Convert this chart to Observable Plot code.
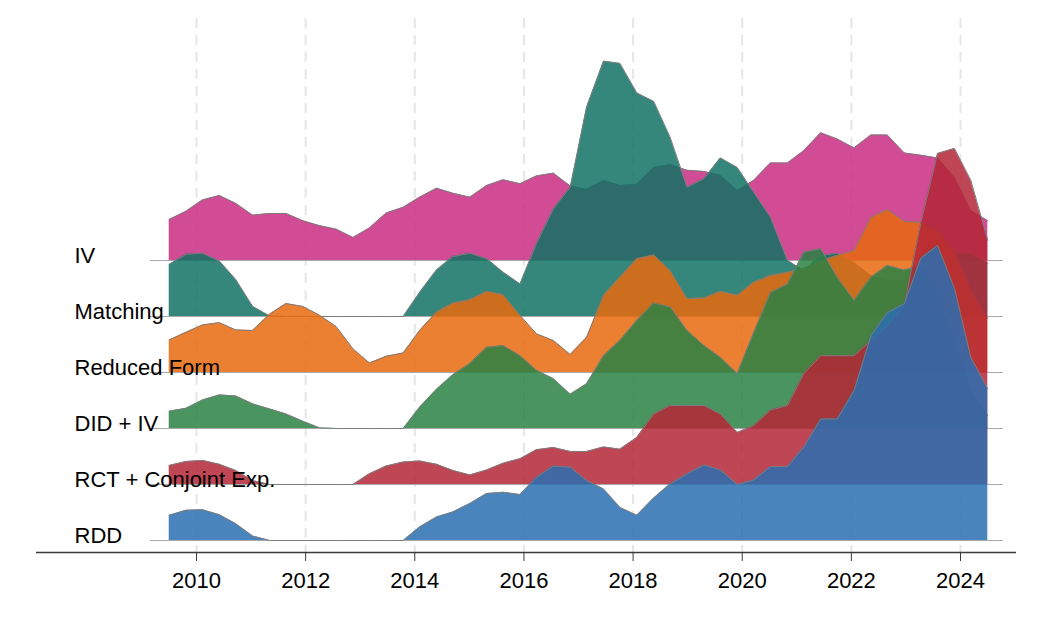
<!DOCTYPE html>
<html>
<head>
<meta charset="utf-8">
<script src="https://cdn.jsdelivr.net/npm/d3@7"></script>
<script src="https://cdn.jsdelivr.net/npm/@observablehq/plot@0.6"></script>
<style>
  body { margin: 0; background: #fff; }
  #chart { width: 1040px; height: 624px; }
</style>
</head>
<body>
<div id="chart"></div>
<script>
// Evaluation grid (decimal years) shared by every density curve
const years = [
  2009.50, 2009.81, 2010.11, 2010.42, 2010.72, 2011.03, 2011.34, 2011.64, 2011.95, 2012.26,
  2012.56, 2012.87, 2013.17, 2013.48, 2013.79, 2014.09, 2014.40, 2014.70, 2015.01, 2015.32,
  2015.62, 2015.93, 2016.23, 2016.54, 2016.85, 2017.15, 2017.46, 2017.76, 2018.07, 2018.38,
  2018.68, 2018.99, 2019.30, 2019.60, 2019.91, 2020.21, 2020.52, 2020.83, 2021.13, 2021.44,
  2021.74, 2022.05, 2022.36, 2022.66, 2022.97, 2023.27, 2023.58, 2023.89, 2024.19, 2024.50
];

// Method names, top ridge first
const methods = ["IV", "Matching", "Reduced Form", "DID + IV", "RCT + Conjoint Exp.", "RDD"];
const colors = ["#c92c83", "#127265", "#e76a0f", "#2a8144", "#b42636", "#2a6fb1"];

// Relative density of each method over time (1 = one ridge spacing)
const ivDensity = [
  0.73, 0.88, 1.08, 1.16, 1.02, 0.81, 0.84, 0.84, 0.71, 0.62,
  0.56, 0.41, 0.58, 0.85, 0.95, 1.13, 1.29, 1.20, 1.13, 1.34,
  1.44, 1.37, 1.51, 1.56, 1.33, 1.27, 1.43, 1.34, 1.36, 1.66,
  1.71, 1.61, 1.59, 1.52, 1.25, 1.43, 1.74, 1.74, 1.96, 2.28,
  2.17, 2.01, 2.24, 2.24, 1.92, 1.88, 1.83, 1.48, 0.89, 0.71
];
const matchingDensity = [
  0.93, 1.11, 1.13, 0.99, 0.66, 0.18, 0.01, 0.00, 0.00, 0.00,
  0.00, 0.00, 0.00, 0.00, 0.00, 0.43, 0.83, 1.07, 1.13, 1.03,
  0.79, 0.58, 1.30, 1.92, 2.31, 3.74, 4.56, 4.52, 3.99, 3.84,
  3.20, 2.31, 2.46, 2.83, 2.66, 2.22, 1.77, 1.00, 0.82, 1.09,
  1.13, 0.96, 0.73, 0.64, 0.64, 0.79, 0.96, 1.13, 1.13, 0.95
];
const reducedFormDensity = [
  0.58, 0.72, 0.85, 0.89, 0.76, 0.75, 1.04, 1.23, 1.18, 1.02,
  0.82, 0.42, 0.17, 0.29, 0.35, 0.75, 1.08, 1.24, 1.30, 1.45,
  1.39, 1.02, 0.69, 0.57, 0.32, 0.63, 1.38, 1.70, 2.03, 2.10,
  1.82, 1.32, 1.33, 1.45, 1.38, 1.61, 1.73, 1.79, 1.86, 2.00,
  2.09, 2.18, 2.77, 2.91, 2.70, 2.68, 2.54, 2.18, 1.46, 0.96
];
const didIvDensity = [
  0.31, 0.36, 0.51, 0.60, 0.58, 0.44, 0.35, 0.26, 0.13, 0.01,
  0.00, 0.00, 0.00, 0.00, 0.00, 0.38, 0.70, 0.96, 1.16, 1.45,
  1.48, 1.30, 1.04, 0.89, 0.61, 0.80, 1.30, 1.57, 1.93, 2.24,
  2.17, 1.75, 1.48, 1.27, 0.98, 1.71, 2.43, 2.58, 3.15, 3.21,
  2.70, 2.29, 2.70, 2.91, 2.83, 2.91, 2.46, 1.57, 0.68, 0.23
];
const rctDensity = [
  0.34, 0.41, 0.43, 0.36, 0.25, 0.07, 0.00, 0.00, 0.00, 0.00,
  0.00, 0.00, 0.19, 0.33, 0.40, 0.42, 0.36, 0.25, 0.17, 0.26,
  0.38, 0.46, 0.62, 0.66, 0.59, 0.59, 0.67, 0.63, 0.84, 1.26,
  1.41, 1.41, 1.41, 1.26, 0.93, 1.05, 1.33, 1.41, 1.98, 2.30,
  2.30, 2.30, 2.57, 2.84, 3.20, 4.66, 5.91, 6.00, 5.43, 4.36
];
const rddDensity = [
  0.45, 0.54, 0.55, 0.46, 0.30, 0.08, 0.00, 0.00, 0.00, 0.00,
  0.00, 0.00, 0.00, 0.00, 0.00, 0.24, 0.42, 0.51, 0.66, 0.84,
  0.86, 0.82, 1.13, 1.33, 1.31, 1.07, 0.92, 0.59, 0.45, 0.76,
  1.01, 1.19, 1.35, 1.26, 1.00, 1.08, 1.32, 1.32, 1.67, 2.17,
  2.17, 2.68, 3.66, 4.07, 4.23, 5.04, 5.27, 4.50, 3.27, 2.71
];

const tickYears = [2010, 2012, 2014, 2016, 2018, 2020, 2022, 2024];

const densities = [ivDensity, matchingDensity, reducedFormDensity, didIvDensity, rctDensity, rddDensity];

// Each ridge sits one unit above the next; RDD rests at 0
const ridges = methods.map((method, i) => {
  const base = methods.length - 1 - i;
  return {
    method,
    base,
    color: colors[i],
    rows: years.map((year, k) => ({ year, base, top: base + densities[i][k] }))
  };
});

const yDomain = [-12 / 56, 522 / 56];
const font = "'Liberation Sans', Arial, Helvetica, sans-serif";

const ridgeMarks = ridges.flatMap(r => [
  Plot.areaY(r.rows, { x: "year", y1: "base", y2: "top", fill: r.color, fillOpacity: 0.85 }),
  Plot.lineY(r.rows, { x: "year", y: "top", stroke: "#7d7d7d", strokeWidth: 1 })
]);

const chart = Plot.plot({
  width: 1040,
  height: 624,
  marginLeft: 36,
  marginRight: 24,
  marginTop: 18,
  marginBottom: 72,
  style: { fontFamily: font, background: "#fff", color: "#000" },
  x: { domain: [2007.068, 2025.026], label: null },
  y: { domain: yDomain, axis: null },
  marks: [
    Plot.ruleX(tickYears, { stroke: "#e6e6e6", strokeWidth: 2, strokeDasharray: "10,7" }),
    Plot.ruleY(ridges, { y: "base", stroke: "#a9a9a9", strokeWidth: 1, insetLeft: 114, insetRight: 13 }),
    ...ridgeMarks,
    Plot.text(ridges, {
      y: "base", text: "method", frameAnchor: "left", dx: 38, dy: 2,
      textAnchor: "start", lineAnchor: "bottom", fontSize: 22, fill: "#000"
    }),
    Plot.ruleY([yDomain[0]], { stroke: "#3a3a3a", strokeWidth: 1.5 }),
    Plot.axisX({
      ticks: tickYears, tickFormat: d => String(d), tickSize: 9, tickPadding: 11,
      fontSize: 22, stroke: "#3a3a3a", fill: "#000", label: null
    })
  ]
});

document.getElementById("chart").appendChild(chart);
</script>
</body>
</html>
